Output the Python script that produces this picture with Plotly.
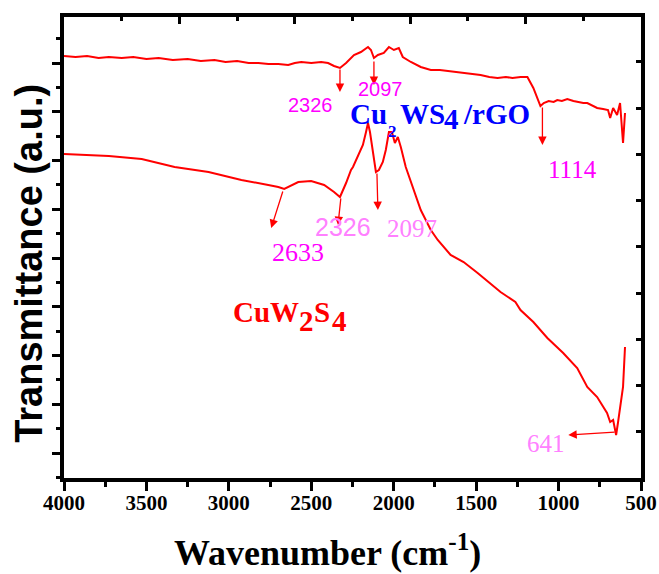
import plotly.graph_objects as go

# ---- data ----
# Cu2WS4/rGO (upper spectrum)
top_wn = [4000, 3930, 3860, 3790, 3728, 3650, 3580, 3500, 3426, 3340, 3250, 3170, 3087, 3020,
          2950, 2880, 2821, 2760, 2700, 2640, 2600, 2561, 2500, 2440, 2398,
          2362, 2326, 2289, 2241, 2199, 2156, 2138, 2120, 2096, 2060, 2029, 1999, 1969, 1945,
          1896, 1836, 1775, 1720, 1673, 1620, 1570, 1520, 1473, 1420, 1370, 1320, 1280, 1230,
          1189, 1153, 1110, 1090, 1060, 1030, 1008, 980, 947, 910,
          880, 850, 826, 800, 766, 730, 700, 687, 669, 645, 627, 609, 597]
top_t = [422, 421, 422, 420, 421, 420, 421, 419, 420, 418, 419, 417, 418, 416,
         417, 415, 415, 414, 414, 413, 415, 416, 415, 416, 415,
         412, 410, 415, 423, 426, 431, 428, 420, 423, 425, 431, 428, 430, 421,
         416, 411, 408, 408, 407, 406, 405, 404, 403, 401, 400, 401, 400, 401,
         401, 390, 372, 375, 377, 376, 378, 377, 379, 377,
         376, 375, 375, 373, 370, 369, 368, 360, 370, 363, 375, 335, 365]

# CuW2S4 (lower spectrum)
bot_wn = [4000, 3860, 3728, 3529, 3329, 3123, 2924, 2761, 2700, 2664, 2579, 2501, 2422, 2362,
          2326, 2289, 2259, 2247, 2211, 2187, 2168, 2156, 2144, 2120, 2108, 2090, 2066, 2048,
          2029, 2011, 1993, 1975, 1957, 1927, 1884, 1836, 1775, 1733, 1655, 1576, 1491, 1352,
          1262, 1231, 1153, 1068, 972, 887, 826, 766, 706, 687, 669, 651, 639, 615, 609, 597]
bot_t = [324, 323, 322, 319, 311, 306, 298, 293, 291, 289, 296, 297, 293, 286,
         281, 295, 308, 311, 325, 333, 346, 355, 346, 321, 306, 308, 316, 328,
         346, 346, 335, 341, 331, 311, 291, 268, 248, 238, 223, 216, 205, 186,
         176, 168, 156, 140, 125, 110, 91, 81, 65, 56, 58, 43, 56, 85, 91, 131]

x_ticks = [4000, 3500, 3000, 2500, 2000, 1500, 1000, 500]
x_labels = ["4000", "3500", "3000", "2500", "2000", "1500", "1000", "500"]

RED = "#ff0000"
MAG = "#ff00ff"
PINK = "#ff80ff"
BLUE = "#0000ff"
SERIF = "Liberation Serif"
SANS = "Liberation Sans"

fig = go.Figure()
fig.add_trace(go.Scatter(x=top_wn, y=top_t, mode="lines", line=dict(color=RED, width=2),
                         showlegend=False, hoverinfo="skip"))
fig.add_trace(go.Scatter(x=bot_wn, y=bot_t, mode="lines", line=dict(color=RED, width=2),
                         showlegend=False, hoverinfo="skip"))
# invisible trace so the mirror axes exist
fig.add_trace(go.Scatter(x=[None], y=[None], xaxis="x2", yaxis="y2", showlegend=False,
                         hoverinfo="skip"))

# ---- arrows: (head wn, head t, tail wn, tail t) ----
arrows = [
    (2326, 386, 2326, 410),
    (2120, 393, 2120, 418),
    (1098, 333, 1098, 372),
    (2743, 250, 2670, 288),
    (2338, 253, 2320, 281),
    (2096, 268, 2102, 306),
    (941, 43, 651, 46),
]
for hx, hy, tx, ty in arrows:
    fig.add_annotation(x=hx, y=hy, ax=tx, ay=ty, xref="x", yref="y", axref="x", ayref="y",
                       text="", showarrow=True, arrowhead=2, arrowsize=1.3, arrowwidth=1.3,
                       arrowcolor=RED, standoff=0, startstandoff=0)

# ---- labels: (text, wn, t, color, font, size, bold) ----
labels = [
    ("2326", 2507, 373, MAG, SANS, 20, False),
    ("2097", 2078, 389, MAG, SANS, 20, False),
    ("Cu", 2150, 364, BLUE, SERIF, 29, True),
    ("2", 2005, 347, BLUE, SERIF, 17, True),
    ("WS", 1823, 364, BLUE, SERIF, 29, True),
    ("4", 1647, 359, BLUE, SERIF, 29, True),
    ("/rGO", 1377, 364, BLUE, SERIF, 29, True),
    ("1114", 917, 309, MAG, SERIF, 25, False),
    ("2633", 2579, 226, MAG, SERIF, 26, False),
    ("2326", 2307, 251, PINK, SANS, 25, False),
    ("2097", 1890, 250, PINK, SERIF, 25, False),
    ("CuW", 2776, 166, RED, SERIF, 29, True),
    ("2", 2531, 157, RED, SERIF, 29, True),
    ("S", 2437, 166, RED, SERIF, 29, True),
    ("4", 2329, 157, RED, SERIF, 29, True),
    ("641", 1074, 35, PINK, SERIF, 25, False),
]
for txt, lx, ly, col, fam, sz, bold in labels:
    fig.add_annotation(x=lx, y=ly, xref="x", yref="y", showarrow=False,
                       text=f"<b>{txt}</b>" if bold else txt,
                       font=dict(color=col, family=fam, size=sz),
                       xanchor="center", yanchor="middle")

# axis titles
fig.add_annotation(x=0.457, y=-0.157, xref="paper", yref="paper", showarrow=False,
                   text="<b>Wavenumber (cm<sup>-1</sup>)</b>",
                   font=dict(family=SERIF, size=36, color="black"),
                   xanchor="center", yanchor="middle")
fig.add_annotation(x=-0.062, y=0.465, xref="paper", yref="paper", showarrow=False,
                   text="<b>Transmittance (a.u.)</b>", textangle=-90,
                   font=dict(family=SANS, size=38, color="black"),
                   xanchor="center", yanchor="middle")

axis_common = dict(showgrid=False, zeroline=False, showline=True, linecolor="black",
                   linewidth=4, tickcolor="black", tickwidth=3, automargin=False)

fig.update_layout(
    width=659, height=574,
    margin=dict(l=64, r=18, t=17, b=96),
    paper_bgcolor="white", plot_bgcolor="white",
    xaxis=dict(range=[4000, 500], tickvals=x_ticks, ticktext=[f"<b>{t}</b>" for t in x_labels],
               ticks="outside", ticklen=9, ticklabelstandoff=-6,
               tickfont=dict(family=SERIF, size=21, color="black"),
               minor=dict(dtick=250, tick0=500, ticks="outside", ticklen=5, tickwidth=3,
                          tickcolor="black"),
               **axis_common),
    yaxis=dict(range=[0, 461], tick0=25, dtick=48.75, ticks="outside", ticklen=8,
               showticklabels=False,
               minor=dict(dtick=24.375, tick0=0.625, ticks="outside", ticklen=4, tickwidth=3,
                          tickcolor="black"),
               **axis_common),
    xaxis2=dict(overlaying="x", side="top", range=[0, 5], tick0=0, dtick=1, ticks="inside",
                ticklen=7, showticklabels=False,
                minor=dict(dtick=0.5, ticks="inside", ticklen=4, tickwidth=3, tickcolor="black"),
                **axis_common),
    yaxis2=dict(overlaying="y", side="right", range=[0, 461], tick0=0, dtick=46.25,
                ticks="inside", ticklen=5, showticklabels=False, **axis_common),
)

fig.write_html("out.html")
